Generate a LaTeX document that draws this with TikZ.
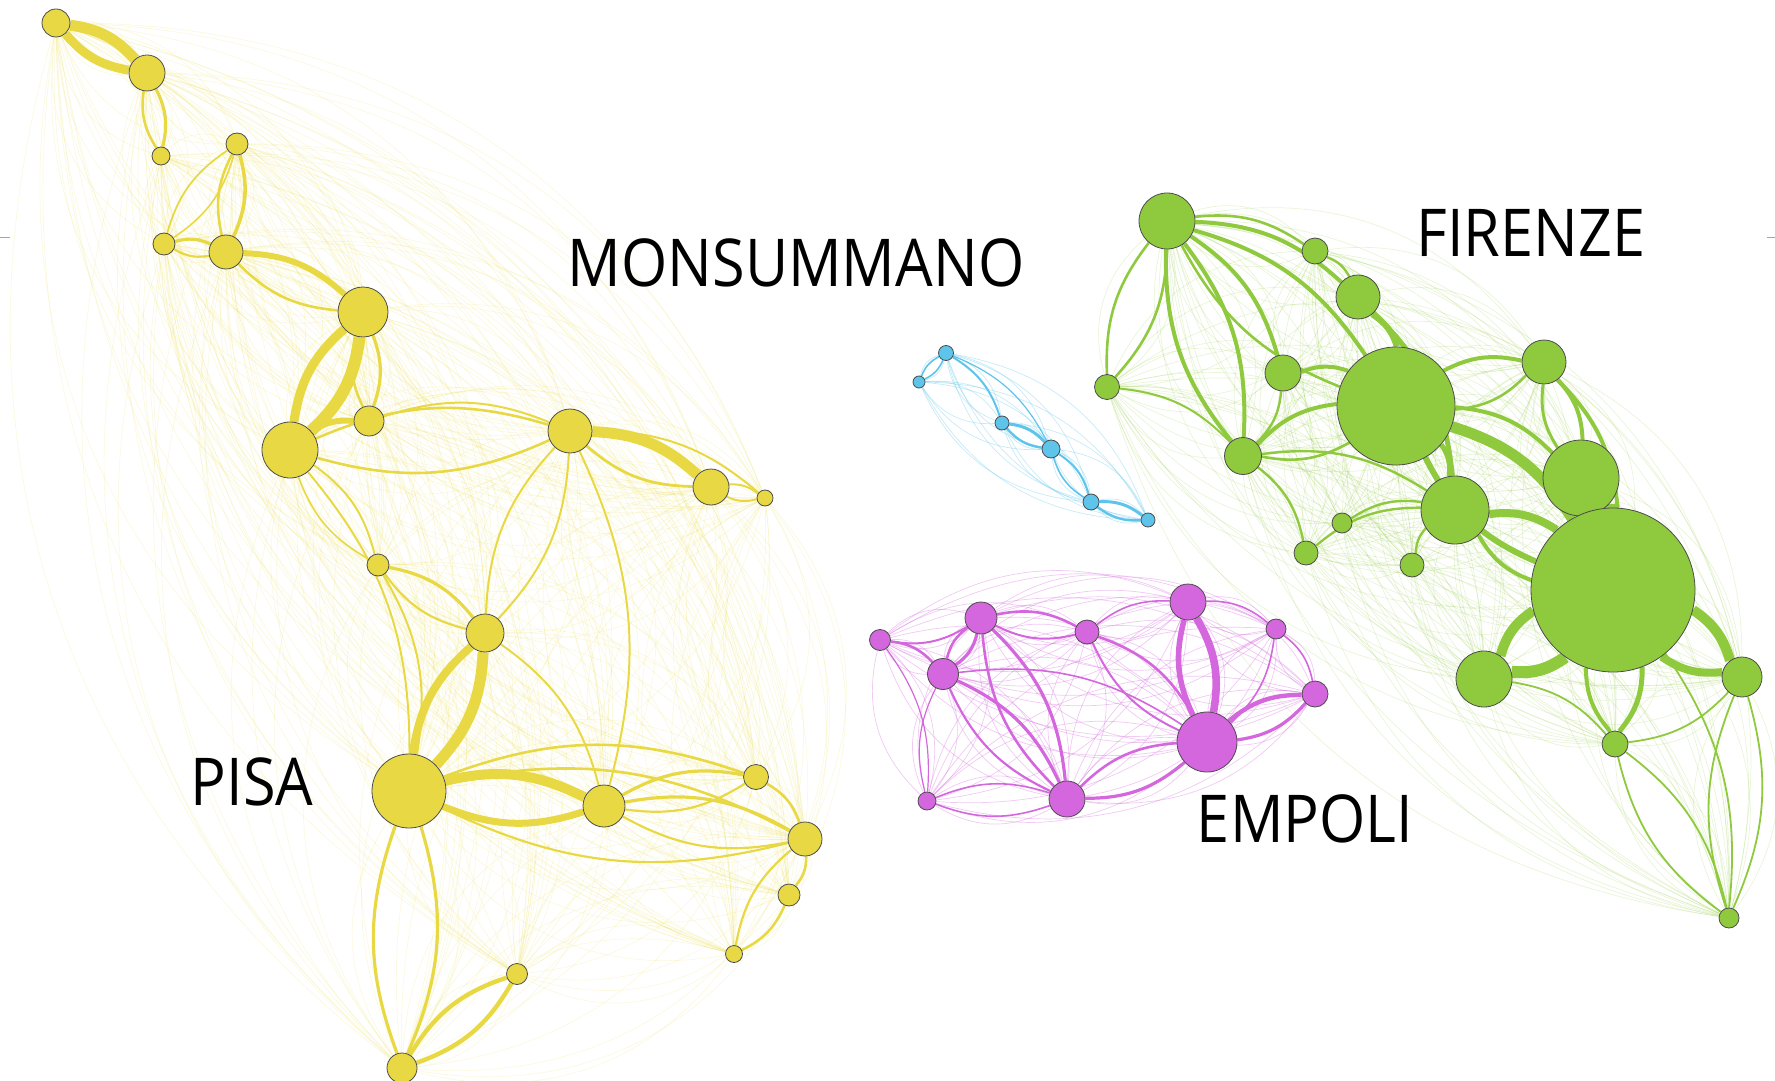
\documentclass[tikz,border=0pt]{standalone}
\usepackage{fontspec}
\usepackage{graphicx}
\newfontfamily\labfont{Open Sans}
\pgfdeclarelayer{edges}
\pgfsetlayers{edges,main}
\definecolor{ycol}{RGB}{232,217,68}
\definecolor{gcol}{RGB}{143,201,62}
\definecolor{bcol}{RGB}{94,196,234}
\definecolor{pcol}{RGB}{212,102,222}
\tikzset{
 nd/.style={circle, draw=black!70, line width=0.4pt, inner sep=0pt, minimum size=#1},
 yn/.style={nd=#1, fill=ycol},
 gn/.style={nd=#1, fill=gcol},
 bn/.style={nd=#1, fill=bcol},
 pn/.style={nd=#1, fill=pcol},
 Y/.style={draw=ycol},
 G/.style={draw=gcol},
 B/.style={draw=bcol},
 P/.style={draw=pcol},
 faint/.style={line width=0.35pt, draw opacity=0.17},
 lab/.style={font=\labfont\fontsize{33}{33}\selectfont, inner sep=0pt, text=black}
}
\newcommand\lnk[4]{\draw[#1, line width=#4pt] (#2) to[bend left=20] (#3);}
\begin{document}
\begin{tikzpicture}[x=0.5pt,y=-0.5pt]
\useasboundingbox (0,0) rectangle (1775,1080);
% yellow (Pisa)
\node[yn=14pt] (y1) at (56,23) {};
\node[yn=18pt] (y2) at (147,73) {};
\node[yn=9pt] (y3) at (161,156) {};
\node[yn=11pt] (y4) at (237,144) {};
\node[yn=11pt] (y5) at (164,244) {};
\node[yn=17pt] (y6) at (226,252) {};
\node[yn=25pt] (y7) at (363,312) {};
\node[yn=15pt] (y8) at (369,421) {};
\node[yn=28pt] (y9) at (290,450) {};
\node[yn=22pt] (y10) at (570,431) {};
\node[yn=18pt] (y11) at (711,487) {};
\node[yn=8pt] (y12) at (765,498) {};
\node[yn=11pt] (y13) at (378,565) {};
\node[yn=19pt] (y14) at (485,633) {};
\node[yn=37pt] (y15) at (409,791) {};
\node[yn=21pt] (y16) at (604,806) {};
\node[yn=12.5pt] (y17) at (756,777) {};
\node[yn=17pt] (y18) at (805,839) {};
\node[yn=11pt] (y19) at (789,895) {};
\node[yn=8.5pt] (y20) at (734,954) {};
\node[yn=10.5pt] (y21) at (517,974) {};
\node[yn=15pt] (y22) at (402,1068) {};
% blue (Monsummano)
\node[bn=7.5pt] (b1) at (946,353) {};
\node[bn=6pt] (b2) at (919,382) {};
\node[bn=7pt] (b3) at (1002,423) {};
\node[bn=9pt] (b4) at (1051,449) {};
\node[bn=8pt] (b5) at (1091,502) {};
\node[bn=7pt] (b6) at (1148,520) {};
% purple (Empoli)
\node[pn=10.5pt] (p1) at (880,640) {};
\node[pn=16pt] (p2) at (981,618) {};
\node[pn=15.5pt] (p3) at (943,674) {};
\node[pn=12pt] (p4) at (1087,632) {};
\node[pn=18pt] (p5) at (1188,602) {};
\node[pn=10pt] (p6) at (1276,629) {};
\node[pn=13pt] (p7) at (1315,694) {};
\node[pn=30pt] (p8) at (1207,742) {};
\node[pn=18pt] (p9) at (1067,799) {};
\node[pn=9pt] (p10) at (927,801) {};
% green (Firenze)
\node[gn=28pt] (g1) at (1167,221) {};
\node[gn=13pt] (g2) at (1315,251) {};
\node[gn=22pt] (g3) at (1358,297) {};
\node[gn=12.5pt] (g4) at (1107,387) {};
\node[gn=18pt] (g5) at (1283,373) {};
\node[gn=59pt] (g6) at (1396,406) {};
\node[gn=22pt] (g7) at (1544,362) {};
\node[gn=18.5pt] (g8) at (1243,456) {};
\node[gn=38pt] (g9) at (1581,478) {};
\node[gn=34pt] (g10) at (1455,510) {};
\node[gn=10pt] (g11) at (1342,523) {};
\node[gn=12pt] (g12) at (1306,553) {};
\node[gn=12pt] (g13) at (1412,565) {};
\node[gn=82pt] (g14) at (1613,590) {};
\node[gn=28pt] (g15) at (1484,679) {};
\node[gn=20pt] (g16) at (1742,677) {};
\node[gn=13pt] (g17) at (1615,744) {};
\node[gn=10pt] (g18) at (1729,918) {};
% labels
\node[lab] (lm) at (796,263) {\scalebox{0.9}[1]{MONSUMMANO}};
\node[lab] (lf) at (1531,233) {\scalebox{0.9}[1]{FIRENZE}};
\node[lab] (lp) at (252,782) {\scalebox{0.9}[1]{PISA}};
\node[lab] (le) at (1305,819) {\scalebox{0.9}[1]{EMPOLI}};
% small grey ticks at the edges
\draw[black!35, line width=0.5pt] (0,238) -- (10,238);
\draw[black!35, line width=0.5pt] (1767,238) -- (1775,238);
\begin{pgfonlayer}{edges}
% faint complete webs
\foreach \i in {1,...,22}{\foreach \j in {1,...,22}{\ifnum\i<\j
  \draw[Y,faint] (y\i) to[bend left=34] (y\j);
  \draw[Y,faint] (y\j) to[bend left=34] (y\i);
\fi}}
\foreach \i in {1,...,18}{\foreach \j in {1,...,18}{\ifnum\i<\j
  \draw[G,faint,draw opacity=0.2] (g\i) to[bend left=32] (g\j);
  \draw[G,faint,draw opacity=0.2] (g\j) to[bend left=32] (g\i);
\fi}}
\foreach \i in {1,...,10}{\foreach \j in {1,...,10}{\ifnum\i<\j
  \draw[P,faint,draw opacity=0.35] (p\i) to[bend left=30] (p\j);
  \draw[P,faint,draw opacity=0.35] (p\j) to[bend left=30] (p\i);
\fi}}
\foreach \i in {1,...,6}{\foreach \j in {1,...,6}{\ifnum\i<\j
  \draw[B,faint,draw opacity=0.35] (b\i) to[bend left=30] (b\j);
  \draw[B,faint,draw opacity=0.35] (b\j) to[bend left=30] (b\i);
\fi}}
% yellow strong
\lnk{Y}{y1}{y2}{5.5} \lnk{Y}{y2}{y1}{4.5}
\lnk{Y}{y2}{y3}{1.6} \lnk{Y}{y3}{y2}{1.3}
\lnk{Y}{y4}{y6}{1.8} \lnk{Y}{y6}{y4}{1.3}
\lnk{Y}{y5}{y4}{0.9} \lnk{Y}{y4}{y5}{0.8}
\lnk{Y}{y5}{y6}{1.6} \lnk{Y}{y6}{y5}{1.1}
\lnk{Y}{y6}{y7}{3} \lnk{Y}{y7}{y6}{1.3}
\lnk{Y}{y7}{y9}{6} \lnk{Y}{y9}{y7}{4.5}
\lnk{Y}{y7}{y8}{1.6} \lnk{Y}{y8}{y7}{1.3}
\lnk{Y}{y9}{y8}{3}
\lnk{Y}{y10}{y11}{5.5} \lnk{Y}{y11}{y10}{1.4}
\lnk{Y}{y11}{y12}{1} \lnk{Y}{y12}{y11}{1} \lnk{Y}{y10}{y12}{1}
\lnk{Y}{y9}{y10}{1.3} \lnk{Y}{y10}{y9}{1.3}
\lnk{Y}{y8}{y10}{1}
\lnk{Y}{y13}{y14}{1.6} \lnk{Y}{y14}{y13}{1.1}
\lnk{Y}{y14}{y15}{5.5} \lnk{Y}{y15}{y14}{4}
\lnk{Y}{y15}{y16}{5} \lnk{Y}{y16}{y15}{3.5}
\lnk{Y}{y16}{y17}{1.6} \lnk{Y}{y17}{y16}{1.1}
\lnk{Y}{y16}{y18}{1.6} \lnk{Y}{y18}{y16}{1.1}
\lnk{Y}{y15}{y18}{1.3} \lnk{Y}{y18}{y15}{1.1}
\lnk{Y}{y17}{y18}{1.3} \lnk{Y}{y18}{y19}{1.3} \lnk{Y}{y19}{y20}{1.3} \lnk{Y}{y20}{y18}{1.1}
\lnk{Y}{y15}{y22}{1.6} \lnk{Y}{y22}{y15}{1.6}
\lnk{Y}{y21}{y22}{2.2} \lnk{Y}{y22}{y21}{2.2}
\lnk{Y}{y9}{y13}{1} \lnk{Y}{y13}{y9}{0.8}
\lnk{Y}{y9}{y15}{1}
\lnk{Y}{y10}{y14}{1} \lnk{Y}{y14}{y10}{1} \lnk{Y}{y10}{y16}{1}
\lnk{Y}{y14}{y16}{1} \lnk{Y}{y15}{y17}{1.3} \lnk{Y}{y13}{y15}{1}
% blue strong
\lnk{B}{b1}{b2}{0.8} \lnk{B}{b2}{b1}{0.8}
\lnk{B}{b1}{b3}{1} \lnk{B}{b3}{b4}{1.5} \lnk{B}{b4}{b3}{1.2}
\lnk{B}{b4}{b5}{1} \lnk{B}{b5}{b4}{0.8}
\lnk{B}{b5}{b6}{1.5} \lnk{B}{b6}{b5}{1.2}
\lnk{B}{b1}{b4}{0.6}
% purple strong
\lnk{P}{p5}{p8}{3.8} \lnk{P}{p8}{p5}{2.8}
\lnk{P}{p8}{p7}{2.2} \lnk{P}{p7}{p8}{1.6}
\lnk{P}{p8}{p9}{1.6} \lnk{P}{p9}{p8}{1.3}
\lnk{P}{p2}{p9}{1.6} \lnk{P}{p9}{p2}{1.3}
\lnk{P}{p3}{p9}{1.6} \lnk{P}{p9}{p3}{1.1}
\lnk{P}{p2}{p3}{1.6} \lnk{P}{p3}{p2}{1.3}
\lnk{P}{p1}{p3}{1.3} \lnk{P}{p2}{p1}{1}
\lnk{P}{p2}{p4}{1.3} \lnk{P}{p4}{p2}{1}
\lnk{P}{p4}{p8}{1.3} \lnk{P}{p8}{p4}{1}
\lnk{P}{p4}{p5}{0.8} \lnk{P}{p5}{p6}{0.8} \lnk{P}{p6}{p7}{0.8} \lnk{P}{p6}{p8}{0.8}
\lnk{P}{p10}{p9}{0.8} \lnk{P}{p9}{p10}{0.8}
\lnk{P}{p3}{p8}{0.8} \lnk{P}{p10}{p3}{0.6} \lnk{P}{p1}{p10}{0.6}
% green strong
\lnk{G}{g1}{g8}{2} \lnk{G}{g8}{g1}{2}
\lnk{G}{g1}{g5}{2} \lnk{G}{g1}{g3}{2} \lnk{G}{g1}{g2}{1.3}
\lnk{G}{g1}{g4}{1.3} \lnk{G}{g4}{g1}{1.3}
\lnk{G}{g1}{g6}{2} \lnk{G}{g6}{g1}{1.3}
\lnk{G}{g3}{g6}{3} \lnk{G}{g2}{g3}{1.2} \lnk{G}{g3}{g10}{2.5}
\lnk{G}{g6}{g14}{5.5} \lnk{G}{g14}{g6}{3}
\lnk{G}{g6}{g9}{2} \lnk{G}{g6}{g10}{2.5} \lnk{G}{g6}{g7}{2} \lnk{G}{g7}{g6}{1.3}
\lnk{G}{g5}{g6}{2} \lnk{G}{g8}{g6}{2} \lnk{G}{g6}{g8}{1.3}
\lnk{G}{g7}{g9}{2} \lnk{G}{g9}{g7}{1.5} \lnk{G}{g7}{g14}{2}
\lnk{G}{g9}{g14}{3} \lnk{G}{g10}{g14}{4} \lnk{G}{g14}{g10}{2}
\lnk{G}{g14}{g15}{6} \lnk{G}{g15}{g14}{5}
\lnk{G}{g14}{g16}{5} \lnk{G}{g16}{g14}{4}
\lnk{G}{g14}{g17}{2.5} \lnk{G}{g17}{g14}{2}
\lnk{G}{g15}{g17}{0.9} \lnk{G}{g16}{g17}{0.9}
\lnk{G}{g17}{g18}{0.9} \lnk{G}{g18}{g17}{0.9}
\lnk{G}{g16}{g18}{0.9} \lnk{G}{g18}{g16}{0.9} \lnk{G}{g14}{g18}{0.9}
\lnk{G}{g8}{g12}{1.2} \lnk{G}{g11}{g10}{1.2} \lnk{G}{g12}{g10}{1.2} \lnk{G}{g13}{g10}{1.2}
\lnk{G}{g4}{g8}{1} \lnk{G}{g5}{g8}{1.2} \lnk{G}{g8}{g10}{1.2}
\end{pgfonlayer}
\end{tikzpicture}
\end{document}
